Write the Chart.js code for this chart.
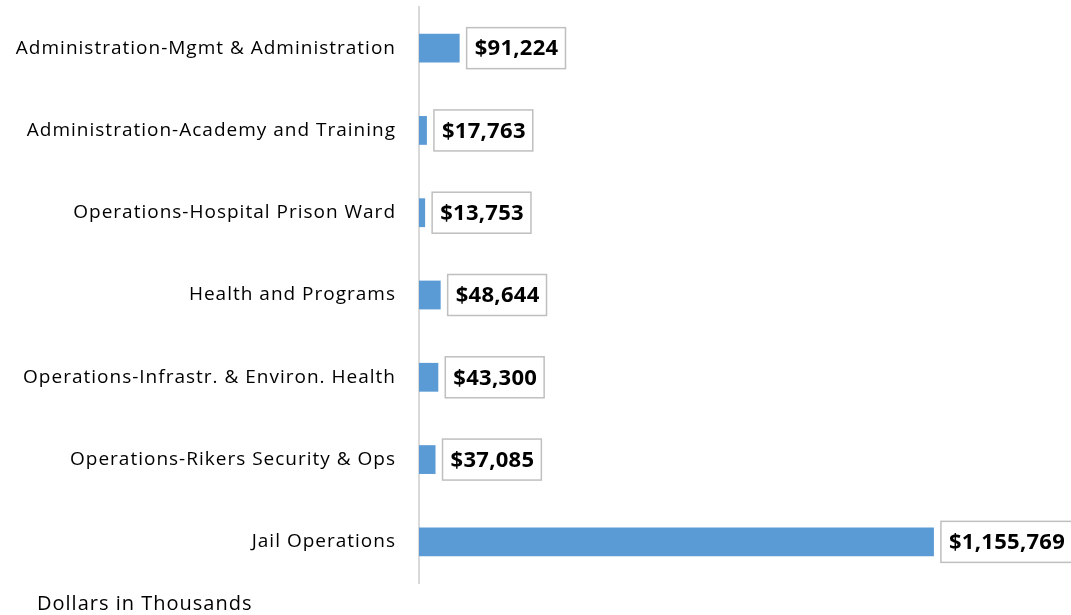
<!DOCTYPE html>
<html>
<head>
<meta charset="utf-8">
<script src="https://cdn.jsdelivr.net/npm/chart.js@4.4.1/dist/chart.umd.min.js"></script>
<style>
  html, body { margin: 0; padding: 0; background: #fff; }
  #wrap { width: 1071px; height: 615px; }
</style>
</head>
<body>
<div id="wrap"><canvas id="budgetChart"></canvas></div>
<script>
// data (dollars in thousands)
const categories = [
  'Administration-Mgmt & Administration',
  'Administration-Academy and Training',
  'Operations-Hospital Prison Ward',
  'Health and Programs',
  'Operations-Infrastr. & Environ. Health',
  'Operations-Rikers Security & Ops',
  'Jail Operations'
];
const amounts = [91224, 17763, 13753, 48644, 43300, 37085, 1155769];
const footNote = 'Dollars in Thousands';

const barColor = '#5b9bd5';
const fontName = "'Open Sans', 'Liberation Sans', sans-serif";

function money(v) {
  return '$' + v.toLocaleString('en-US');
}

// a bit of letter spacing so the text is as wide as the original
const spacing = {
  id: 'spacing',
  beforeDraw(chart) {
    chart.ctx.letterSpacing = '1px';
  }
};

// boxed value labels next to each bar
const boxLabels = {
  id: 'boxLabels',
  afterDatasetsDraw(chart) {
    const ctx = chart.ctx;
    const meta = chart.getDatasetMeta(0);
    ctx.save();
    ctx.letterSpacing = '0.3px';
    ctx.font = 'bold 22px ' + fontName;
    ctx.textBaseline = 'middle';
    ctx.textAlign = 'left';
    meta.data.forEach((bar, i) => {
      const txt = money(amounts[i]);
      const w = ctx.measureText(txt).width + 15;
      const h = 41;
      const x = bar.x + 7;
      const y = bar.y - h / 2;
      ctx.fillStyle = '#ffffff';
      ctx.fillRect(x, y, w, h);
      ctx.strokeStyle = '#bfbfbf';
      ctx.lineWidth = 1.5;
      ctx.strokeRect(x, y, w, h);
      ctx.fillStyle = '#000000';
      ctx.fillText(txt, x + 8, bar.y + 1);
    });
    ctx.restore();
  }
};

const footText = {
  id: 'footText',
  afterDraw(chart) {
    const ctx = chart.ctx;
    ctx.save();
    ctx.letterSpacing = '1px';
    ctx.font = '20px ' + fontName;
    ctx.fillStyle = '#000000';
    ctx.textBaseline = 'alphabetic';
    ctx.fillText(footNote, 37, 610);
    ctx.restore();
  }
};

const ctx1 = document.getElementById('budgetChart').getContext('2d');
const chart1 = new Chart(ctx1, {
  type: 'bar',
  data: {
    labels: categories,
    datasets: [{
      data: amounts,
      backgroundColor: barColor,
      borderWidth: 0,
      barPercentage: 0.35,
      categoryPercentage: 1
    }]
  },
  options: {
    indexAxis: 'y',
    responsive: true,
    maintainAspectRatio: false,
    animation: false,
    layout: { padding: { top: 7, bottom: 32, left: 0, right: 6 } },
    plugins: {
      legend: { display: false },
      tooltip: { enabled: false }
    },
    scales: {
      x: {
        display: false,
        min: 0,
        max: 1450000
      },
      y: {
        afterFit(scale) {
          scale.width = 419;
          scale.paddingTop = 0;
          scale.paddingBottom = 0;
        },
        grid: { display: false, drawTicks: false },
        border: { display: true, color: '#d9d9d9', width: 2 },
        ticks: {
          color: '#000000',
          padding: 23,
          font: { family: fontName, size: 19 }
        }
      }
    }
  },
  plugins: [spacing, boxLabels, footText]
});
</script>
</body>
</html>
